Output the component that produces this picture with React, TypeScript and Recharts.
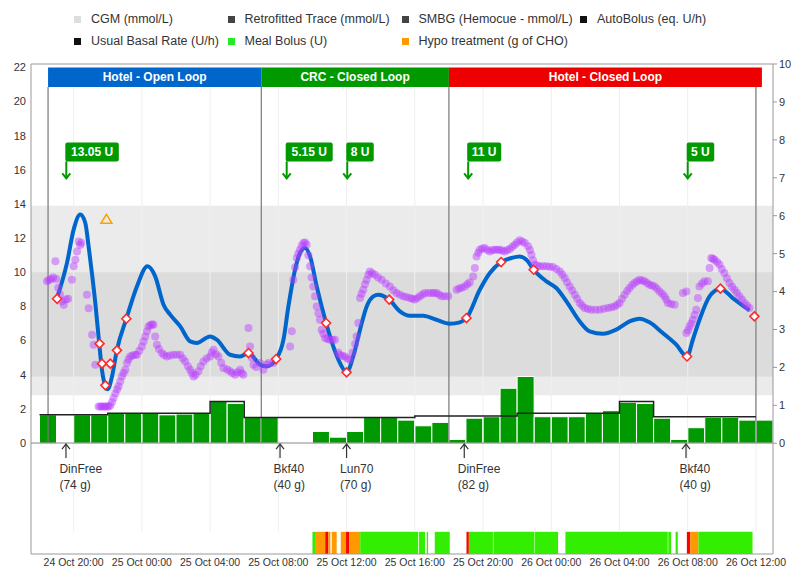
import React from "react";
import {
  ComposedChart,
  Bar,
  Line,
  Scatter,
  XAxis,
  YAxis,
  ReferenceArea,
  ReferenceLine,
} from "recharts";

// time axis is hours since 24 Oct 00:00
const xTicks = [20, 24, 28, 32, 36, 40, 44, 48, 52, 56, 60];
const xTickLabels = [
  "24 Oct 20:00",
  "25 Oct 00:00",
  "25 Oct 04:00",
  "25 Oct 08:00",
  "25 Oct 12:00",
  "25 Oct 16:00",
  "25 Oct 20:00",
  "26 Oct 00:00",
  "26 Oct 04:00",
  "26 Oct 08:00",
  "26 Oct 12:00",
];
const glucoseTicks = [0, 2, 4, 6, 8, 10, 12, 14, 16, 18, 20, 22];
const insulinTicks = [0, 1, 2, 3, 4, 5, 6, 7, 8, 9, 10];

const legendItems = [
  { name: "CGM (mmol/L)", color: "#dddddd" },
  { name: "Retrofitted Trace (mmol/L)", color: "#444444" },
  { name: "SMBG (Hemocue - mmol/L)", color: "#444444" },
  { name: "AutoBolus (eq. U/h)", color: "#111111" },
  { name: "Usual Basal Rate (U/h)", color: "#111111" },
  { name: "Meal Bolus (U)", color: "#22ee22" },
  { name: "Hypo treatment (g of CHO)", color: "#ff9900" },
];

const periods = [
  { start: 18.5, end: 31, name: "Hotel - Open Loop", color: "#0066cc" },
  { start: 31, end: 42, name: "CRC - Closed Loop", color: "#009900" },
  { start: 42, end: 60.35, name: "Hotel - Closed Loop", color: "#ee0000" },
];
const periodEdges = [18.5, 31, 42, 60];

const cgmRaw = [
  [18.44, 9.47], [18.55, 9.55], [18.68, 9.6], [18.8, 9.7], [18.93, 10.64], [18.98, 9.6],
  [19.1, 9.1], [19.2, 8.7], [19.32, 8.3], [19.42, 8.1], [19.55, 8.4], [19.68, 8.45],
  [19.9, 9.57], [20.0, 10.35], [20.1, 10.74], [20.2, 11.22], [20.3, 11.81], [20.38, 11.6],
  [20.45, 11.73], [20.78, 8.69], [20.88, 7.9], [21.08, 6.34], [21.17, 5.76], [21.27, 4.59],
  [21.46, 2.14], [21.56, 2.14], [21.66, 2.14], [21.76, 2.14], [21.86, 2.14], [21.96, 2.14],
  [22.05, 2.14], [22.15, 2.2], [22.25, 2.4], [22.34, 2.64], [22.45, 2.9], [22.55, 3.15],
  [22.63, 3.32], [22.73, 3.6], [22.83, 3.9], [22.93, 4.1], [23.03, 4.29], [23.13, 4.69],
  [23.22, 4.9], [23.32, 5.07], [23.45, 5.12], [23.6, 5.17], [23.71, 5.17], [23.85, 5.4],
  [24.0, 5.66], [24.1, 5.95], [24.2, 6.24], [24.3, 6.55], [24.39, 6.83], [24.5, 6.9],
  [24.6, 6.95], [24.68, 6.93], [24.78, 6.24], [24.88, 5.76], [25.0, 5.5], [25.17, 5.27],
  [25.3, 5.15], [25.47, 5.07], [25.65, 5.12], [25.85, 5.17], [26.05, 5.17], [26.25, 5.17],
  [26.4, 4.95], [26.54, 4.78], [26.7, 4.5], [26.83, 4.29], [26.93, 4.1], [27.03, 3.9],
  [27.15, 4.0], [27.32, 4.2], [27.45, 4.5], [27.61, 4.78], [27.8, 4.95], [28.0, 5.07],
  [28.1, 5.3], [28.2, 5.47], [28.35, 5.2], [28.49, 5.07], [28.65, 4.7], [28.78, 4.39],
  [29.0, 4.3], [29.17, 4.2], [29.3, 4.1], [29.47, 4.0], [29.6, 4.15], [29.76, 4.29],
  [29.85, 4.1], [29.95, 4.0], [30.25, 6.74], [30.34, 5.66], [30.45, 5.0], [30.54, 4.59],
  [30.7, 4.45], [30.93, 4.69], [31.12, 4.29], [31.32, 4.59], [31.42, 4.69], [31.71, 4.69],
  [32.69, 5.66], [32.79, 6.54], [32.88, 9.57], [32.98, 10.3], [33.08, 10.84], [33.17, 11.1],
  [33.27, 11.32], [33.37, 11.55], [33.47, 11.72], [33.56, 11.75], [33.66, 11.62], [33.76, 11.0],
  [33.86, 10.35], [33.95, 9.7], [34.05, 9.17], [34.15, 8.6], [34.25, 8.0], [34.35, 7.6],
  [34.44, 7.22], [34.54, 6.64], [34.64, 6.4], [34.74, 6.15], [34.88, 6.1], [35.03, 6.05],
  [35.18, 6.05], [35.32, 6.05], [35.5, 5.3], [35.61, 5.17], [35.75, 5.1], [35.9, 5.07],
  [36.05, 4.95], [36.2, 4.88], [36.35, 5.3], [36.5, 5.8], [36.59, 6.24], [36.69, 7.03],
  [36.79, 8.49], [36.88, 8.75], [36.98, 8.98], [37.08, 9.3], [37.18, 9.57], [37.28, 9.85],
  [37.37, 10.05], [37.5, 9.95], [37.66, 9.86], [37.85, 9.7], [38.06, 9.57], [38.3, 9.35],
  [38.54, 9.17], [38.75, 8.95], [38.93, 8.79], [39.12, 8.68], [39.32, 8.59], [39.5, 8.55],
  [39.71, 8.49], [39.85, 8.45], [40.0, 8.4], [40.15, 8.5], [40.3, 8.59], [40.45, 8.7],
  [40.59, 8.79], [40.8, 8.79], [40.98, 8.79], [41.12, 8.79], [41.27, 8.79], [41.42, 8.7],
  [41.57, 8.59], [41.75, 8.59], [41.96, 8.59], [42.45, 8.98], [42.6, 9.05], [42.75, 9.1],
  [42.93, 9.17], [43.08, 9.3], [43.22, 9.4], [43.42, 9.76], [43.52, 10.25], [43.62, 10.93],
  [43.72, 11.15], [43.81, 11.32], [43.95, 11.4], [44.1, 11.42], [44.25, 11.3], [44.4, 11.22],
  [44.55, 11.3], [44.69, 11.32], [44.84, 11.32], [44.98, 11.32], [45.12, 11.28], [45.27, 11.22],
  [45.42, 11.3], [45.57, 11.36], [45.72, 11.5], [45.86, 11.62], [46.0, 11.75], [46.15, 11.87],
  [46.3, 11.8], [46.45, 11.72], [46.64, 11.52], [46.75, 11.3], [46.84, 11.03], [46.93, 10.7],
  [47.03, 10.45], [47.18, 10.4], [47.33, 10.35], [47.52, 10.35], [47.72, 10.35], [47.9, 10.33],
  [48.1, 10.31], [48.3, 10.2], [48.5, 10.05], [48.65, 9.87], [48.79, 9.67], [48.93, 9.42],
  [49.08, 9.17], [49.23, 8.93], [49.38, 8.69], [49.52, 8.45], [49.67, 8.2], [49.81, 8.05],
  [49.96, 7.91], [50.15, 7.85], [50.35, 7.81], [50.6, 7.81], [50.84, 7.81], [51.08, 7.86],
  [51.32, 7.91], [51.52, 7.95], [51.71, 8.0], [51.86, 8.1], [52.01, 8.2], [52.15, 8.45],
  [52.3, 8.69], [52.45, 8.9], [52.59, 9.08], [52.74, 9.25], [52.88, 9.37], [53.03, 9.48],
  [53.18, 9.57], [53.33, 9.52], [53.47, 9.47], [53.62, 9.37], [53.76, 9.27], [53.91, 9.22],
  [54.06, 9.17], [54.2, 9.03], [54.35, 8.88], [54.5, 8.75], [54.64, 8.59], [54.74, 8.4],
  [54.84, 8.2], [55.03, 8.15], [55.23, 8.1], [55.72, 8.79], [55.92, 8.88], [55.92, 6.44],
  [56.02, 6.6], [56.11, 6.83], [56.2, 7.0], [56.3, 7.22], [56.4, 7.5], [56.5, 7.81],
  [56.6, 8.49], [56.69, 9.17], [56.84, 9.35], [56.98, 9.47], [57.18, 9.47], [57.28, 10.25],
  [57.38, 10.84], [57.48, 10.8], [57.57, 10.74], [57.72, 10.6], [57.86, 10.45], [58.0, 10.2],
  [58.15, 9.96], [58.3, 9.65], [58.45, 9.37], [58.6, 9.15], [58.74, 8.98], [58.88, 8.8],
  [59.03, 8.59], [59.18, 8.4], [59.33, 8.2], [59.48, 8.05], [59.62, 7.91],
];

const retrofittedRaw = [
  [19.03, 8.5], [19.61, 10.55], [20.0, 12.5], [20.39, 13.38], [20.68, 12.9], [20.88, 11.5],
  [21.07, 9.96], [21.27, 8.2], [21.46, 6.24], [21.66, 4.29], [21.86, 3.32], [22.0, 3.15],
  [22.25, 3.9], [22.54, 5.47], [23.09, 7.28], [23.71, 9.17], [24.33, 10.35], [24.78, 9.76],
  [25.27, 8.1], [25.66, 7.52], [26.25, 6.83], [26.83, 5.95], [27.22, 5.86], [28.0, 6.24],
  [28.39, 6.05], [29.17, 5.17], [29.76, 5.07], [30.25, 5.27], [30.93, 4.59], [31.32, 4.49],
  [31.87, 4.92], [32.3, 6.05], [32.59, 8.0], [32.98, 10.15], [33.27, 11.13], [33.56, 11.42],
  [33.86, 10.93], [34.25, 9.17], [34.8, 7.03], [35.22, 5.66], [35.61, 4.69], [36.0, 4.14],
  [36.39, 5.07], [36.79, 6.64], [37.18, 8.0], [37.57, 8.59], [37.86, 8.69], [38.5, 8.4],
  [39.13, 7.71], [39.71, 7.46], [40.49, 7.46], [41.27, 7.22], [42.05, 6.99], [42.64, 7.07],
  [43.03, 7.32], [43.81, 8.98], [44.4, 9.96], [45.06, 10.6], [45.67, 10.84], [46.15, 10.93],
  [46.58, 10.7], [46.97, 10.15], [47.72, 9.47], [48.3, 9.08], [48.89, 8.3], [49.67, 7.12],
  [50.25, 6.54], [51.03, 6.4], [51.81, 6.64], [52.59, 7.12], [53.18, 7.28], [53.76, 7.07],
  [54.54, 6.44], [55.33, 5.76], [55.96, 5.07], [56.3, 6.05], [56.69, 7.22], [57.28, 8.59],
  [57.92, 9.04], [58.64, 8.49], [59.62, 7.77],
];

const smbgRaw = [
  [19.03, 8.45], [21.52, 5.82], [21.66, 4.65], [21.86, 3.38], [22.15, 4.65], [22.54, 5.43],
  [23.09, 7.28], [30.25, 5.27], [31.87, 4.92], [34.8, 7.03], [36.0, 4.14], [38.5, 8.4],
  [43.03, 7.32], [45.06, 10.6], [46.97, 10.15], [55.96, 5.07], [57.92, 9.04], [59.91, 7.42],
];

const hypoTreatments = [{ t: 21.92, v: 13.1 }];

// flags sit at a fixed level above the traces
const FLAG_LEVEL = 15.5;
const mealBoluses = [
  { t: 19.57, label: "13.05 U" },
  { t: 32.49, label: "5.15 U" },
  { t: 36.04, label: "8 U" },
  { t: 43.13, label: "11 U" },
  { t: 56.0, label: "5 U" },
];

const meals = [
  { t: 19.55, name: "DinFree", carbs: "(74 g)" },
  { t: 32.1, name: "Bkf40", carbs: "(40 g)" },
  { t: 36.0, name: "Lun70", carbs: "(70 g)" },
  { t: 42.9, name: "DinFree", carbs: "(82 g)" },
  { t: 55.9, name: "Bkf40", carbs: "(40 g)" },
];

const autoBolusHours = [
  18, 19, 20, 21, 22, 23, 24, 25, 26, 27, 28, 29, 30, 31, 32, 33, 34, 35, 36, 37, 38, 39,
  40, 41, 42, 43, 44, 45, 46, 47, 48, 49, 50, 51, 52, 53, 54, 55, 56, 57, 58, 59, 60,
];
const autoBolusRates = [
  0.75, 0, 0.75, 0.75, 0.79, 0.79, 0.79, 0.75, 0.77, 0.79, 1.1, 1.05, 0.68, 0.68, 0, 0,
  0.31, 0.16, 0.31, 0.68, 0.68, 0.61, 0.46, 0.55, 0.1, 0.66, 0.7, 1.45, 1.76, 0.7, 0.7,
  0.7, 0.79, 0.86, 1.08, 1.05, 0.66, 0.1, 0.41, 0.68, 0.68, 0.61, 0.61,
];

const basalTimes = [18, 22, 28, 30, 40, 46, 52, 54, 60];
const basalRates = [0.75, 0.79, 1.1, 0.68, 0.72, 0.79, 1.1, 0.7, 0.7];

// closed-loop status strip: start, end, state
const loopStatus: [number, number, string][] = [
  [34.0, 34.2, "on"], [34.2, 34.75, "partial"], [34.75, 34.93, "off"], [34.93, 35.05, "partial"],
  [35.13, 35.42, "partial"], [35.66, 35.97, "partial"], [35.97, 36.16, "off"], [36.16, 36.8, "partial"],
  [36.8, 40.2, "on"], [40.25, 40.6, "on"], [40.7, 40.78, "on"], [41.17, 42.05, "on"],
  [43.03, 43.17, "off"], [43.17, 44.58, "on"], [44.61, 47.02, "on"], [47.05, 48.4, "on"],
  [48.83, 54.83, "on"], [54.86, 55.03, "on"], [55.29, 55.42, "on"], [55.95, 56.15, "off"],
  [56.15, 56.63, "partial"], [56.63, 59.8, "on"],
];
const statusColors: Record<string, string> = { on: "#33ee00", partial: "#ff9900", off: "#ff0000" };

const cgm = cgmRaw.map(([t, v]) => ({ t, v }));
const retrofitted = retrofittedRaw.map(([t, v]) => ({ t, v }));
const smbg = smbgRaw.map(([t, v]) => ({ t, v }));
const autoBolus = autoBolusHours.map((h, i) => ({ t: h + 0.5, r: autoBolusRates[i] }));
const basal = basalTimes.map((t, i) => ({ t, r: basalRates[i] }));
const mealMarks = meals.map((m) => ({ ...m, v: 0 }));
const bolusMarks = mealBoluses.map((b) => ({ ...b, v: FLAG_LEVEL }));

const X_DOMAIN = [17.5, 61];
const G_DOMAIN = [-6.5, 22.2];
const U_DOMAIN = [-2.92, 10];
const HEADER_BOTTOM = 20.85;
const HEADER_TOP = 22.0;

const CgmDot = (p: any) => (
  <circle cx={p.cx} cy={p.cy} r={4} fill="#b83cff" fillOpacity={0.45} />
);

const SmbgDiamond = (p: any) => {
  const { cx, cy } = p;
  return (
    <polygon
      points={`${cx},${cy - 4.5} ${cx + 4.5},${cy} ${cx},${cy + 4.5} ${cx - 4.5},${cy}`}
      fill="#fff"
      stroke="#ff2a2a"
      strokeWidth={1.6}
    />
  );
};

const HypoTriangle = (p: any) => {
  const { cx, cy } = p;
  return (
    <polygon
      points={`${cx},${cy - 5} ${cx + 5.5},${cy + 4} ${cx - 5.5},${cy + 4}`}
      fill="none"
      stroke="#ffa000"
      strokeWidth={1.5}
    />
  );
};

const BolusFlag = (p: any) => {
  const { cx, cy, payload } = p;
  const w = payload.label.length * 6.5 + 8;
  return (
    <g>
      <line x1={cx} y1={cy - 17} x2={cx} y2={cy} stroke="#009900" strokeWidth={2} />
      <polyline
        points={`${cx - 4},${cy - 5} ${cx},${cy} ${cx + 4},${cy - 5}`}
        fill="none"
        stroke="#009900"
        strokeWidth={2}
      />
      <rect x={cx - 1} y={cy - 36} width={w} height={19} rx={2} fill="#009900" />
      <text
        x={cx - 1 + w / 2}
        y={cy - 22}
        fill="#fff"
        fontSize={12}
        fontWeight="bold"
        textAnchor="middle"
      >
        {payload.label}
      </text>
    </g>
  );
};

const MealMark = (p: any) => {
  const { cx, cy, payload } = p;
  return (
    <g>
      <line x1={cx} y1={cy + 1} x2={cx} y2={cy + 15} stroke="#333" strokeWidth={1.2} />
      <polyline
        points={`${cx - 4},${cy + 6} ${cx},${cy + 1} ${cx + 4},${cy + 6}`}
        fill="none"
        stroke="#333"
        strokeWidth={1.2}
      />
      <text x={cx - 6.5} y={cy + 30} fontSize={12} fill="#333">
        {payload.name}
      </text>
      <text x={cx - 6.5} y={cy + 46} fontSize={12} fill="#333">
        {payload.carbs}
      </text>
    </g>
  );
};

export default function App() {
  return (
    <div
      style={{
        position: "absolute",
        left: 0,
        top: 0,
        width: 791,
        height: 569,
        background: "#fff",
        fontFamily: "'Liberation Sans', Arial, sans-serif",
      }}
    >
      <div
        style={{
          position: "absolute",
          left: 74,
          top: 8,
          display: "grid",
          gridTemplateColumns: "153.5px 174px 178.5px auto",
          fontSize: 12.5,
          color: "#333",
        }}
      >
        {legendItems.map((item) => (
          <div key={item.name} style={{ display: "flex", alignItems: "center", height: 22 }}>
            <span
              style={{
                display: "inline-block",
                width: 7,
                height: 7,
                background: item.color,
                marginRight: 10,
              }}
            />
            {item.name}
          </div>
        ))}
      </div>

      <ComposedChart
        width={791}
        height={569}
        data={autoBolus}
        margin={{ top: 64, right: 0, bottom: 0, left: 0 }}
      >
        <ReferenceArea yAxisId="g" y1={2.8} y2={13.9} fill="#ebebeb" fillOpacity={1} />
        <ReferenceArea yAxisId="g" y1={3.9} y2={10} fill="#dcdcdc" fillOpacity={1} />

        <XAxis
          dataKey="t"
          type="number"
          domain={X_DOMAIN}
          allowDataOverflow
          ticks={xTicks}
          interval={0}
          tickFormatter={(v) => xTickLabels[xTicks.indexOf(v)]}
          height={15}
          tickLine={false}
          tickSize={0}
          tickMargin={5}
          stroke="#999"
          tick={{ fontSize: 10.5, fill: "#333" }}
        />
        <XAxis xAxisId="hb" dataKey="t" type="number" domain={X_DOMAIN} allowDataOverflow hide />
        <YAxis
          yAxisId="g"
          type="number"
          domain={G_DOMAIN}
          allowDataOverflow
          ticks={glucoseTicks}
          interval={0}
          width={31}
          tickLine={false}
          tickSize={3}
          tickMargin={2}
          stroke="#999"
          tick={{ fontSize: 11, fill: "#333" }}
        />
        <YAxis
          yAxisId="u"
          orientation="right"
          type="number"
          domain={U_DOMAIN}
          allowDataOverflow
          ticks={insulinTicks}
          interval={0}
          width={18}
          tickSize={4}
          tickMargin={2}
          stroke="#999"
          tick={{ fontSize: 11, fill: "#333" }}
        />

        {/* vertical grid, drawn over the target bands but stopping under the headers */}
        {xTicks.map((t) => (
          <ReferenceLine
            key={`grid-${t}`}
            yAxisId="g"
            segment={[
              { x: t, y: -5.2 },
              { x: t, y: HEADER_BOTTOM },
            ]}
            stroke="#efefef"
          />
        ))}

        <ReferenceLine yAxisId="g" y={22.2} stroke="#999" />
        <ReferenceLine yAxisId="g" y={0} stroke="#888" />

        {periodEdges.map((t) => (
          <ReferenceLine
            key={`edge-${t}`}
            yAxisId="g"
            segment={[
              { x: t, y: 0 },
              { x: t, y: HEADER_BOTTOM },
            ]}
            stroke="#777"
            strokeWidth={1.2}
          />
        ))}

        {periods.map((p) => (
          <ReferenceArea
            key={p.name}
            yAxisId="g"
            x1={p.start}
            x2={p.end}
            y1={HEADER_BOTTOM}
            y2={HEADER_TOP}
            fill={p.color}
            fillOpacity={1}
            label={{ value: p.name, position: "center", fill: "#fff", fontSize: 12, fontWeight: "bold" }}
          />
        ))}

        {loopStatus.map(([t0, t1, s], i) => (
          <ReferenceArea
            key={`status-${i}`}
            yAxisId="g"
            x1={t0}
            x2={t1}
            y1={-6.5}
            y2={-5.2}
            fill={statusColors[s]}
            fillOpacity={1}
          />
        ))}

        <Bar
          xAxisId="hb"
          yAxisId="u"
          dataKey="r"
          barSize={17}
          fill="#009900"
          stroke="#fff"
          strokeWidth={1}
          isAnimationActive={false}
        />
        <Line
          data={basal}
          yAxisId="u"
          dataKey="r"
          type="stepAfter"
          stroke="#222"
          strokeWidth={1.5}
          dot={false}
          isAnimationActive={false}
        />

        <Scatter data={cgm} yAxisId="g" dataKey="v" shape={CgmDot} isAnimationActive={false} />
        <Line
          data={retrofitted}
          yAxisId="g"
          dataKey="v"
          type="monotone"
          stroke="#0066cc"
          strokeWidth={4}
          dot={false}
          isAnimationActive={false}
        />
        <Scatter data={smbg} yAxisId="g" dataKey="v" shape={SmbgDiamond} isAnimationActive={false} />
        <Scatter data={hypoTreatments} yAxisId="g" dataKey="v" shape={HypoTriangle} isAnimationActive={false} />
        <Scatter data={bolusMarks} yAxisId="g" dataKey="v" shape={BolusFlag} isAnimationActive={false} />
        <Scatter data={mealMarks} yAxisId="g" dataKey="v" shape={MealMark} isAnimationActive={false} />
      </ComposedChart>
    </div>
  );
}
